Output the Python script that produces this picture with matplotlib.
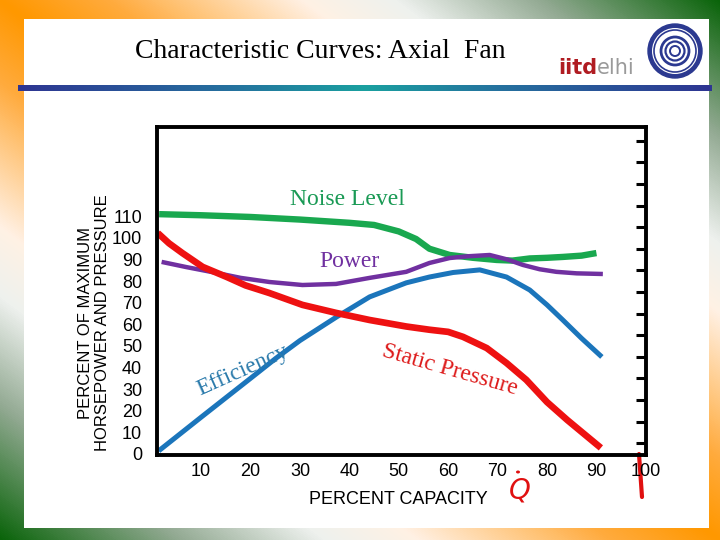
import numpy as np
import matplotlib
matplotlib.use("Agg")
import matplotlib.pyplot as plt
from matplotlib.colors import LinearSegmentedColormap
from matplotlib.patches import Rectangle, Circle, Ellipse

# ---------------- data ----------------
noise_x = [1.5, 10, 20, 30, 40, 45, 50, 53.5, 56.2, 60.3, 65, 69.8, 73, 76.5, 80, 83.2, 87, 90]
noise_y = [111, 110.5, 109.7, 108.5, 107, 106, 103, 99.5, 95, 92.1, 90.8, 89.8, 89.5, 90.5, 90.8, 91.2, 91.8, 93]

pressure_x = [1.2, 3.5, 6.2, 10.3, 15.1, 19, 23.8, 30.5, 37.3, 44.1, 51.5, 56.2, 60, 63,
              67.8, 71.8, 75.8, 80, 84.1, 90.9]
pressure_y = [102.3, 97.5, 93, 86.6, 82, 78, 74.5, 69, 65.3, 62, 59, 57.5, 56.5, 54.2,
              49, 42.1, 34.3, 24, 15.7, 2.8]

power_x = [2, 7, 13.1, 18, 23.8, 30.5, 37.3, 44.1, 51.5, 56.2, 60.3, 64, 68.4, 72, 75.1,
           78.5, 81.9, 86, 91.3]
power_y = [88.9, 86.5, 83.8, 81.5, 79.6, 78.2, 78.7, 81.5, 84.3, 88.4, 90.7, 91.5, 92.1, 90,
           87.5, 85.5, 84.3, 83.6, 83.3]

eff_x = [1.4, 10, 20, 25.2, 30, 37.4, 44.1, 51.5, 56.2, 61, 66.4, 71.8, 76.5, 80, 83.2, 87, 91.1]
eff_y = [1.4, 17, 35, 44.4, 52.5, 63.4, 72.7, 79.2, 81.9, 84, 85.2, 81.9, 75.9, 69, 62, 53.5, 44.9]

x_ticks = [10, 20, 30, 40, 50, 60, 70, 80, 90, 100]
y_ticks = [0, 10, 20, 30, 40, 50, 60, 70, 80, 90, 100, 110]

title = "Characteristic Curves: Axial  Fan"

# ---------------- figure ----------------
fig = plt.figure(figsize=(7.2, 5.4), dpi=100)

bg = fig.add_axes([0, 0, 1, 1])
bg.set_xlim(0, 720)
bg.set_ylim(540, 0)
bg.axis("off")

# slide background gradient (orange top-left / bottom-right, green other corners)
cmap = LinearSegmentedColormap.from_list(
    "slide",
    [(0.0, "#ff9800"), (0.15, "#ffab3d"), (0.42, "#fff1e4"), (0.55, "#eef1ee"),
     (0.75, "#93aa93"), (1.0, "#0a640a")])
W, H = 720, 540
uu, vv = np.meshgrid(np.linspace(0, 1, W), np.linspace(0, 1, H))
bg.imshow(cmap(np.abs(uu - vv)), extent=[0, 720, 540, 0], aspect="auto",
          zorder=0, interpolation="bilinear")
bg.add_patch(Rectangle((24, 19), 685, 509, facecolor="white", edgecolor="none", zorder=1))

# title bar
bar_cmap = LinearSegmentedColormap.from_list(
    "bar", [(0, "#2e3592"), (0.3, "#25709e"), (0.5, "#1aa0a0"), (0.7, "#25709e"), (1, "#2e3592")])
bg.imshow(bar_cmap(np.linspace(0, 1, 400))[None, :, :], extent=[18, 712, 91, 85],
          aspect="auto", zorder=2)

bg.text(320, 52, title, fontfamily="Liberation Serif", fontsize=20,
        ha="center", va="center", color="black", zorder=3)

# logo
bg.text(597, 74, "iitd", fontfamily="DejaVu Sans", fontsize=15, fontweight="bold",
        color="#b01c22", ha="right", va="baseline", zorder=3)
bg.text(597, 74, "elhi", fontfamily="DejaVu Sans", fontsize=15,
        color="#9a9a9a", ha="left", va="baseline", zorder=3)
navy = "#2b3990"
bg.add_patch(Circle((675, 51), 27, facecolor=navy, edgecolor=navy, zorder=3))
bg.add_patch(Circle((675, 51), 23, facecolor="white", edgecolor="none", zorder=3))
bg.add_patch(Circle((675, 51), 21, facecolor="none", edgecolor=navy, lw=1.2, zorder=3))
bg.add_patch(Circle((675, 51), 14, facecolor="none", edgecolor=navy, lw=2.0, zorder=3))
bg.add_patch(Circle((675, 51), 9.5, facecolor="none", edgecolor=navy, lw=1.6, zorder=3))
bg.add_patch(Circle((675, 51), 5, facecolor="none", edgecolor=navy, lw=1.4, zorder=3))

# ---------------- chart ----------------
ax = fig.add_axes([0.2176, 0.1574, 0.897 - 0.2176, 0.7654 - 0.1574])
ax.set_facecolor("none")
ax.set_xlim(1, 100)
ax.set_ylim(-0.5, 151.5)

ax.plot(noise_x, noise_y, color="#19a84f", lw=4.6, solid_joinstyle="round", solid_capstyle="butt")
ax.plot(power_x, power_y, color="#7030a0", lw=3.2, solid_joinstyle="round", solid_capstyle="butt")
ax.plot(eff_x, eff_y, color="#1b75bb", lw=3.6, solid_joinstyle="round", solid_capstyle="butt")
ax.plot(pressure_x, pressure_y, color="#ee1111", lw=4.8, solid_joinstyle="round", solid_capstyle="butt")

serif = "Liberation Serif"
ax.text(39.6, 117.6, "Noise Level", fontfamily=serif, fontsize=17, color="#1a9a55",
        ha="center", va="center")
ax.text(40, 88.9, "Power", fontfamily=serif, fontsize=17, color="#7030a0",
        ha="center", va="center")
ax.text(18.4, 38.5, "Efficiency", fontfamily=serif, fontsize=17, color="#2a7aab",
        ha="center", va="center", rotation=24, rotation_mode="anchor")
ax.text(60.3, 38.9, "Static Pressure", fontfamily=serif, fontsize=17, color="#dd1a1a",
        ha="center", va="center", rotation=-16, rotation_mode="anchor")

for s in ax.spines.values():
    s.set_linewidth(2.8)
    s.set_color("black")

ax.set_xticks(x_ticks)
ax.set_xticklabels([str(v) for v in x_ticks], fontfamily="Liberation Sans", fontsize=13)
ax.set_yticks(y_ticks)
ax.set_yticklabels([str(v) for v in y_ticks], fontfamily="Liberation Sans", fontsize=13)
ax.tick_params(axis="x", length=0, pad=6)
ax.tick_params(axis="y", which="major", left=False, right=False, pad=7)
ax.set_yticks(np.arange(5, 150, 10), minor=True)
ax.tick_params(axis="y", which="minor", left=False, right=True, direction="in",
               length=7, width=2.2)

fig.text(94 / 720, 1 - 323 / 540, "PERCENT OF MAXIMUM\nHORSEPOWER AND PRESSURE",
         fontfamily="Liberation Sans", fontsize=12, rotation=90, ha="center",
         va="center", multialignment="center", linespacing=1.1)
fig.text(398 / 720, 1 - 500 / 540, "PERCENT CAPACITY", fontfamily="Liberation Sans",
         fontsize=13, ha="center", va="center")

# red hand annotations
bg.text(520, 490, "Q", fontfamily="DejaVu Sans", fontsize=20, color="#e01010",
        style="italic", ha="center", va="center", zorder=5)
bg.add_patch(Ellipse((518, 472), 4, 3, facecolor="#e01010", edgecolor="none", zorder=5))
bg.plot([639, 642], [454, 497], color="#e01010", lw=3.0, solid_capstyle="round", zorder=5)
bg.set_xlim(0, 720)
bg.set_ylim(540, 0)

fig.savefig("out.png", dpi=100)
